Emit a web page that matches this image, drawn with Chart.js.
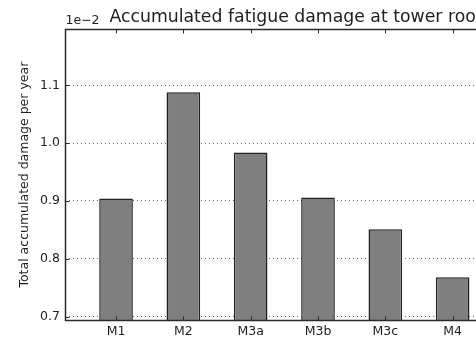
<!DOCTYPE html>
<html>
<head>
<meta charset="utf-8">
<title>Accumulated fatigue damage at tower root</title>
<script src="https://cdn.jsdelivr.net/npm/chart.js@4.4.1/dist/chart.umd.min.js"></script>
<style>
  html, body { margin: 0; padding: 0; background: #fff; overflow: hidden; }
  #wrap { width: 592px; height: 343px; }
  canvas { display: block; }
</style>
</head>
<body>
<div id="wrap"><canvas id="chart" width="592" height="343"></canvas></div>
<script>
// Valores em unidades de 1e-2 (o eixo mostra o fator separado)
const categories = ['M1', 'M2', 'M3a', 'M3b', 'M3c', 'M4'];
const damage = [0.904, 1.088, 0.984, 0.906, 0.851, 0.768];
const yTicks = [0.7, 0.8, 0.9, 1.0, 1.1];
const yRange = [0.694, 1.197];
// o grafico original continua para a direita, fora da janela
const xRange = [-0.758, 7.07];

const titleText = 'Accumulated fatigue damage at tower root';
const yLabel = 'Total accumulated damage per year';
const offsetText = '1e\u22122';

const FONT = "'DejaVu Sans', sans-serif";
const INK = '#1e1e1e';

// moldura + ticks para dentro + texto "1e-2" (estilo matplotlib classico)
const framePlugin = {
    id: 'frame',
    afterDraw(chart) {
        const { ctx, chartArea: a, scales } = chart;
        const left = Math.round(a.left) + 0.5;
        const right = Math.round(a.right) + 0.5;
        const top = Math.round(a.top) + 0.5;
        const bottom = Math.round(a.bottom) + 0.5;

        ctx.save();
        ctx.strokeStyle = '#2a2a2a';
        ctx.lineWidth = 1;
        ctx.beginPath();
        scales.y.ticks.forEach(t => {
            const py = Math.round(scales.y.getPixelForValue(t.value)) + 0.5;
            ctx.moveTo(left, py); ctx.lineTo(left + 4, py);
            ctx.moveTo(right, py); ctx.lineTo(right - 4, py);
        });
        scales.x.ticks.forEach(t => {
            const px = Math.round(scales.x.getPixelForValue(t.value)) + 0.5;
            ctx.moveTo(px, bottom); ctx.lineTo(px, bottom - 4);
            ctx.moveTo(px, top); ctx.lineTo(px, top + 4);
        });
        ctx.stroke();
        ctx.lineWidth = 1.5;
        ctx.strokeRect(left, top, right - left, bottom - top);

        ctx.fillStyle = INK;
        ctx.font = `12.5px ${FONT}`;
        ctx.textAlign = 'left';
        ctx.textBaseline = 'alphabetic';
        ctx.fillText(offsetText, left, a.top - 5);
        ctx.restore();
    }
};

const ctx = document.getElementById('chart').getContext('2d');

new Chart(ctx, {
    type: 'bar',
    data: {
        datasets: [{
            data: damage.map((v, i) => ({ x: i, y: v })),
            backgroundColor: '#7f7f7f',
            borderColor: '#222',
            borderWidth: 1.5,
            borderSkipped: false,
            categoryPercentage: 1,
            barPercentage: 0.5
        }]
    },
    options: {
        responsive: false,
        animation: false,
        devicePixelRatio: 1,
        layout: { padding: 0 },
        plugins: {
            legend: { display: false },
            tooltip: { enabled: false },
            title: {
                display: true,
                text: titleText,
                color: INK,
                font: { family: FONT, size: 17.3, weight: 'normal' },
                padding: { top: 7, bottom: 1.5 }
            }
        },
        scales: {
            x: {
                type: 'linear',
                min: xRange[0],
                max: xRange[1],
                offset: false,
                grid: { display: false, drawTicks: false, offset: false },
                border: { display: false },
                afterBuildTicks: scale => { scale.ticks = categories.map((c, i) => ({ value: i })); },
                afterFit: scale => { scale.height = 23; },
                ticks: {
                    padding: 4,
                    color: INK,
                    font: { family: FONT, size: 12.5 },
                    maxRotation: 0,
                    autoSkip: false,
                    callback: v => categories[v] ?? ''
                }
            },
            y: {
                min: yRange[0],
                max: yRange[1],
                z: 1,
                grid: {
                    color: 'rgba(0,0,0,0.6)',
                    lineWidth: 1,
                    drawTicks: false
                },
                border: { display: false, dash: [1, 3] },
                afterBuildTicks: scale => { scale.ticks = yTicks.map(v => ({ value: v })); },
                afterFit: scale => { scale.width = 65; },
                ticks: {
                    padding: 5,
                    color: INK,
                    font: { family: FONT, size: 12.5 },
                    callback: v => v.toFixed(1)
                },
                title: {
                    display: true,
                    text: yLabel,
                    color: INK,
                    font: { family: FONT, size: 12.5 },
                    padding: { top: 17.5, bottom: 0 }
                }
            }
        }
    },
    plugins: [framePlugin]
});
</script>
</body>
</html>
